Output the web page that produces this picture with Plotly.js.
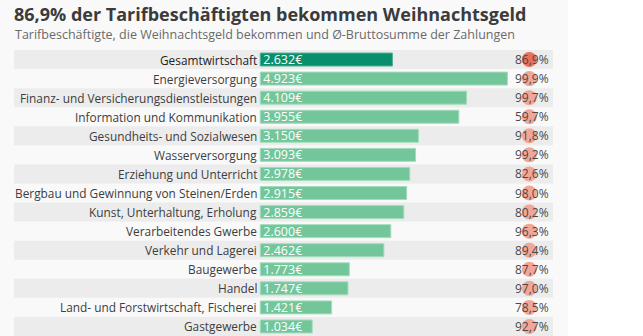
<!DOCTYPE html>
<html><head><meta charset="utf-8">
<script src="https://cdn.plot.ly/plotly-3.0.1.min.js"></script>
<style>html,body{margin:0;padding:0;background:#ffffff;}#chart{width:568px;height:336px;}</style>
</head><body><div id="chart"></div>
<script>
const categories = ["Gesamtwirtschaft","Energieversorgung","Finanz- und Versicherungsdienstleistungen","Information und Kommunikation","Gesundheits- und Sozialwesen","Wasserversorgung","Erziehung und Unterricht","Bergbau und Gewinnung von Steinen/Erden","Kunst, Unterhaltung, Erholung","Verarbeitendes Gwerbe","Verkehr und Lagerei","Baugewerbe","Handel","Land- und Forstwirtschaft, Fischerei","Gastgewerbe"];
const amounts = [2632,4923,4109,3955,3150,3093,2978,2915,2859,2600,2462,1773,1747,1421,1034];
const amountLabels = ["2.632€","4.923€","4.109€","3.955€","3.150€","3.093€","2.978€","2.915€","2.859€","2.600€","2.462€","1.773€","1.747€","1.421€","1.034€"];
const shares = [86.9,99.9,99.7,59.7,91.8,99.2,82.6,98.0,80.2,96.3,89.4,87.7,97.0,78.5,92.7];
const shareLabels = ["86,9%","99,9%","99,7%","59,7%","91,8%","99,2%","82,6%","98,0%","80,2%","96,3%","89,4%","87,7%","97,0%","78,5%","92,7%"];

const FONT = "Open Sans, Noto Sans, sans-serif";
const barColors = categories.map((c,i)=> i===0 ? "#0a8f6d" : "#72c69a");
const barLines = categories.map((c,i)=> i===0 ? "#4fb092" : "#a3dcbc");
const circleColors = categories.map((c,i)=> i===0 ? "#e8705c" : "#f2a697");

const bars = {
  type: "bar", orientation: "h",
  y: categories, x: amounts,
  text: amountLabels, textposition: "inside", insidetextanchor: "start",
  constraintext: "none",
  textfont: {family: FONT, size: 12.5, color: "#ffffff"},
  marker: {color: barColors, line: {color: barLines, width: 1}},
  width: 0.68, hoverinfo: "none", cliponaxis: false
};
const circles = {
  type: "scatter", mode: "markers", xaxis: "x2",
  y: categories, x: categories.map(()=>0.956),
  marker: {size: 15, color: circleColors, line: {width: 0}},
  hoverinfo: "none"
};

const shapes = [];
const annotations = [];
categories.forEach((c,i)=>{
  if (i % 2 === 0) {
    shapes.push({type:"rect", xref:"paper", yref:"y", x0:0, x1:1, y0:i-0.5, y1:i+0.5,
      fillcolor:"#ececec", line:{width:0}, layer:"below"});
  }
  annotations.push({xref:"x", yref:"y", x:0, y:c, text:c, showarrow:false,
    xanchor:"right", yanchor:"middle", xshift:-1.5,
    font:{family:FONT, size:11.85, color: i===0 ? "#222222" : "#3d3d3d"}});
  annotations.push({xref:"paper", yref:"y", x:1, y:c, text:shareLabels[i], showarrow:false,
    xanchor:"right", yanchor:"middle", xshift:-2,
    font:{family:FONT, size:12, color:"#4a4a4a"}});
});
annotations.push({xref:"paper", yref:"paper", x:-0.001, y:1, yshift:16,
  text:"Tarifbeschäftigte, die Weihnachtsgeld bekommen und Ø-Bruttosumme der Zahlungen",
  showarrow:false, xanchor:"left", yanchor:"middle",
  font:{family:FONT, size:12.5, color:"#6a6a6a"}});

const layout = {
  width: 568, height: 336,
  paper_bgcolor: "#f9f9f9", plot_bgcolor: "rgba(0,0,0,0)",
  margin: {l:14, r:15, t:50, b:0, pad:0},
  showlegend: false,
  title: {text:"86,9% der Tarifbeschäftigten bekommen Weihnachtsgeld",
    xref:"container", x:14/568, xanchor:"left", yref:"container", y:1-15/336, yanchor:"middle",
    font:{family:FONT, size:18, weight:700, color:"#3b3b3b"}},
  xaxis: {range:[-4906, 5831], showgrid:false, zeroline:false, showticklabels:false, fixedrange:true},
  xaxis2: {range:[0,1], overlaying:"x", showgrid:false, zeroline:false, showticklabels:false, fixedrange:true},
  yaxis: {range:[14.5,-0.5], showgrid:false, zeroline:false, showticklabels:false, fixedrange:true, type:"category"},
  shapes: shapes, annotations: annotations
};
Plotly.newPlot("chart", [bars, circles], layout, {displayModeBar:false, staticPlot:true});
</script></body></html>
